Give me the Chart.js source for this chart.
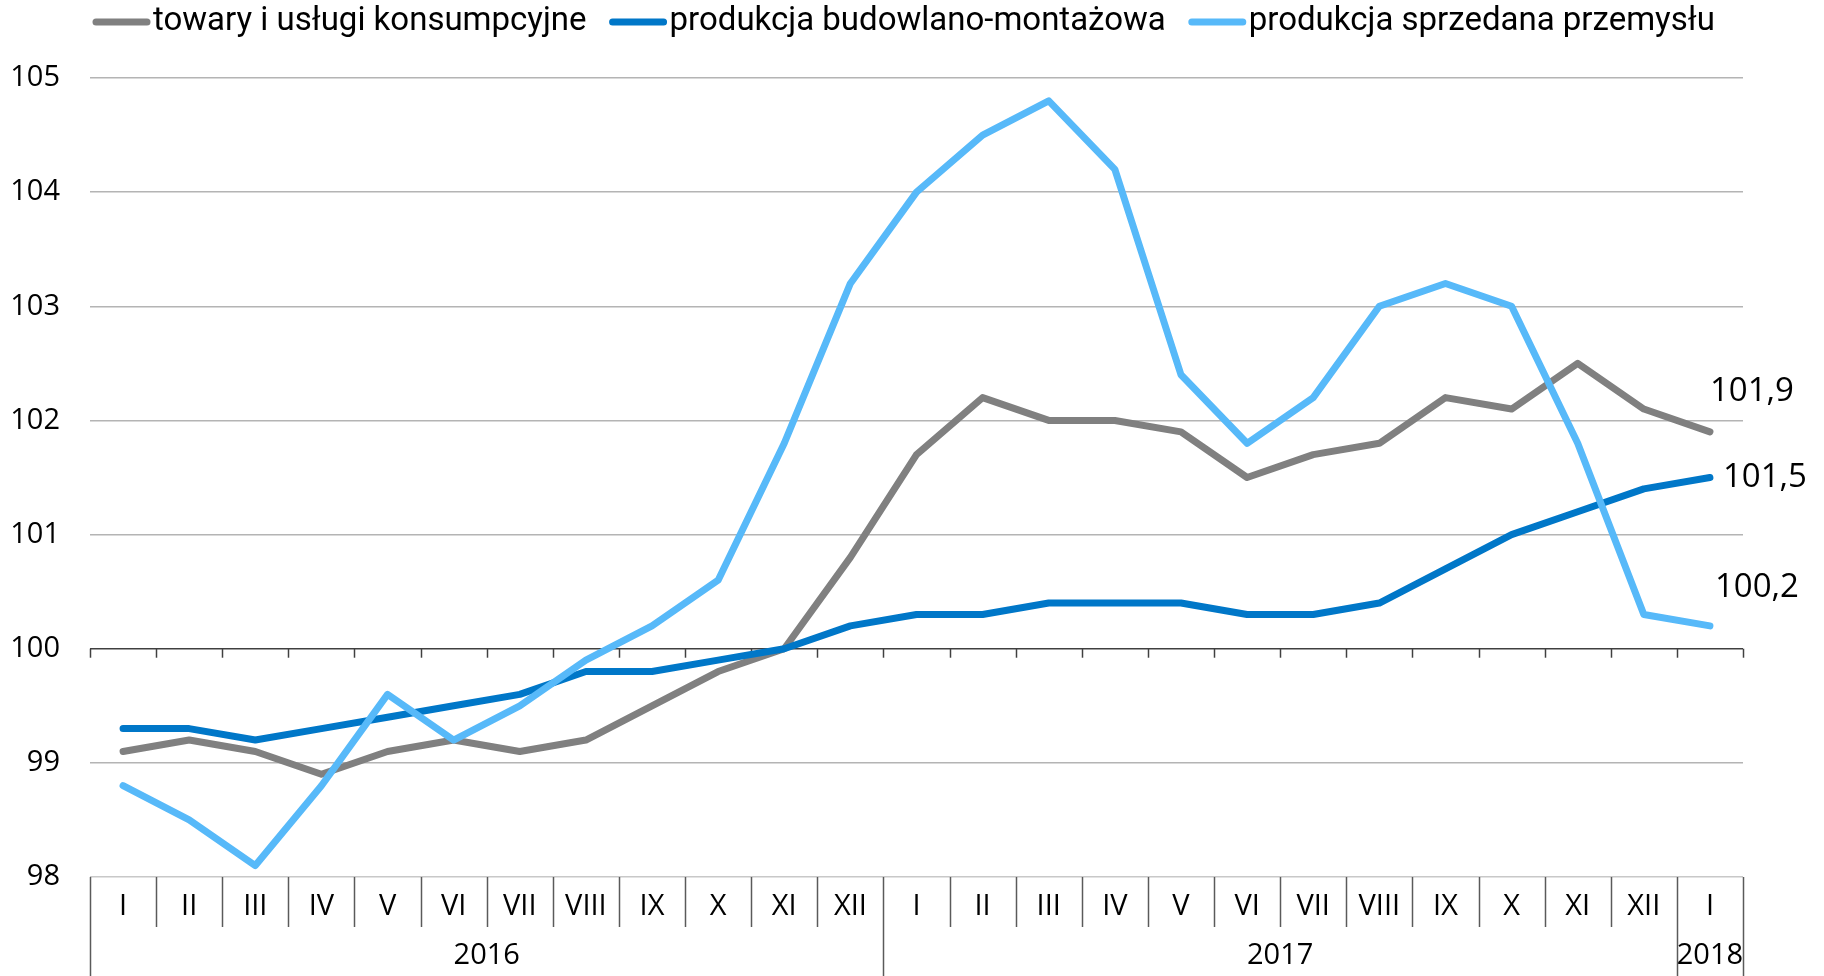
<!DOCTYPE html>
<html><head><meta charset="utf-8">
<script src="https://cdn.jsdelivr.net/npm/chart.js@4/dist/chart.umd.min.js"></script>
<style>html,body{margin:0;padding:0;background:#fff}#wrap{width:1824px;height:976px;position:relative}</style>
</head><body><div id="wrap"><canvas id="c"></canvas></div>
<script>
const months = ['I','II','III','IV','V','VI','VII','VIII','IX','X','XI','XII','I','II','III','IV','V','VI','VII','VIII','IX','X','XI','XII','I'];
const years = ['2016','2017','2018'];
const yearSpans = [12,12,1];
const seriesNames = ['towary i usługi konsumpcyjne','produkcja budowlano-montażowa','produkcja sprzedana przemysłu'];
const consumer = [99.1,99.2,99.1,98.9,99.1,99.2,99.1,99.2,99.5,99.8,100.0,100.8,101.7,102.2,102.0,102.0,101.9,101.5,101.7,101.8,102.2,102.1,102.5,102.1,101.9];
const construction = [99.3,99.3,99.2,99.3,99.4,99.5,99.6,99.8,99.8,99.9,100.0,100.2,100.3,100.3,100.4,100.4,100.4,100.3,100.3,100.4,100.7,101.0,101.2,101.4,101.5];
const industry = [98.8,98.5,98.1,98.8,99.6,99.2,99.5,99.9,100.2,100.6,101.8,103.2,104.0,104.5,104.8,104.2,102.4,101.8,102.2,103.0,103.2,103.0,101.8,100.3,100.2];
const yMin = 98, yMax = 105, yStep = 1, axisValue = 100;

const colors = ['#808080','#0077c8','#57b9f9'];
const labelFont = "'Open Sans', 'Noto Sans', sans-serif";

const legendPlugin = {
  id:'customLegend',
  afterDraw(chart){
    const ctx = chart.ctx;
    ctx.save();
    ctx.font = "33px Roboto, 'Noto Sans', sans-serif";
    ctx.textBaseline = 'middle';
    ctx.textAlign = 'left';
    let x = 93; const yc = 22;
    chart.data.datasets.forEach((ds) => {
      ctx.strokeStyle = ds.borderColor; ctx.lineWidth = 7; ctx.lineCap = 'round';
      ctx.beginPath(); ctx.moveTo(x+3, yc); ctx.lineTo(x+54, yc); ctx.stroke();
      ctx.fillStyle = '#000';
      ctx.fillText(ds.label, x+60, yc);
      x += 60 + ctx.measureText(ds.label).width + 23;
    });
    ctx.restore();
  }
};

const tablePlugin = {
  id:'table',
  beforeDatasetsDraw(chart){
    const {ctx, scales:{x,y}} = chart;
    const n = months.length;
    const w = x.getPixelForValue(1) - x.getPixelForValue(0);
    const edge = i => x.getPixelForValue(0) - w/2 + i*w;
    const y100 = y.getPixelForValue(axisValue);
    const y98 = y.getPixelForValue(yMin);
    const bottom = chart.height;
    ctx.save();
    ctx.strokeStyle = '#404040'; ctx.lineWidth = 1.5;
    for (let i=0;i<=n;i++){
      const ex = Math.round(edge(i))+0.5;
      ctx.beginPath(); ctx.moveTo(ex, y100); ctx.lineTo(ex, y100+9); ctx.stroke();
    }
    ctx.strokeStyle = '#5a5a5a';
    const yearEdges = new Set([0]); let acc=0; yearSpans.forEach(s=>{acc+=s; yearEdges.add(acc);});
    for (let i=0;i<=n;i++){
      const ex = Math.round(edge(i))+0.5;
      ctx.beginPath(); ctx.moveTo(ex, y98); ctx.lineTo(ex, yearEdges.has(i)? bottom : y98+50); ctx.stroke();
    }
    ctx.fillStyle = '#000'; ctx.font = '29px ' + labelFont; ctx.textAlign='center'; ctx.textBaseline='middle';
    let start=0;
    years.forEach((yr,k)=>{
      const cx = (edge(start)+edge(start+yearSpans[k]))/2;
      ctx.fillText(yr, cx, y98+79);
      start += yearSpans[k];
    });
    ctx.restore();
  }
};

const endLabelOffsets = [[0,-40],[13,0],[5,-38]];
const endLabelPlugin = {
  id:'endLabels',
  afterDatasetsDraw(chart){
    const ctx = chart.ctx;
    ctx.save();
    ctx.font = '33px ' + labelFont; ctx.fillStyle='#000'; ctx.textAlign='left'; ctx.textBaseline='middle';
    chart.data.datasets.forEach((ds,i)=>{
      const meta = chart.getDatasetMeta(i);
      const last = meta.data[meta.data.length-1];
      const v = ds.data[ds.data.length-1];
      const txt = v.toFixed(1).replace('.', ',');
      ctx.fillText(txt, last.x + endLabelOffsets[i][0], last.y + endLabelOffsets[i][1]);
    });
    ctx.restore();
  }
};

const mk = (label, data, color, order) => ({label, data, borderColor: color, backgroundColor: color, borderWidth: 7, pointRadius: 0, tension: 0, borderJoinStyle:'round', borderCapStyle:'round', order});

new Chart(document.getElementById('c'), {
  type:'line',
  data:{ labels: months, datasets:[
    mk(seriesNames[0], consumer, colors[0], 2),
    mk(seriesNames[1], construction, colors[1], 1),
    mk(seriesNames[2], industry, colors[2], 0)
  ]},
  options:{
    responsive:true, maintainAspectRatio:false, animation:false,
    layout:{ autoPadding:false, padding:{top:78, left:0, right:81, bottom:0} },
    plugins:{ legend:{display:false}, tooltip:{enabled:false} },
    scales:{
      x:{ type:'category', offset:true,
        grid:{display:false, drawTicks:false, tickLength:0}, border:{display:false},
        ticks:{ autoSkip:false, maxRotation:0, minRotation:0, padding:12, color:'#000', font:{family:labelFont, size:29} },
        afterFit(s){ s.height = 99; }
      },
      y:{ min:yMin, max:yMax,
        grid:{ drawTicks:false, tickLength:0, lineWidth:1.5, color: c => c.tick && c.tick.value===axisValue ? '#404040' : (c.tick && c.tick.value===yMin ? '#c8c8c8' : '#b4b4b4') },
        border:{display:false},
        ticks:{ stepSize:yStep, padding:30, color:'#000', font:{family:labelFont, size:29} },
        afterFit(s){ s.width = 90; }
      }
    }
  },
  plugins:[legendPlugin, tablePlugin, endLabelPlugin]
});
</script></body></html>
